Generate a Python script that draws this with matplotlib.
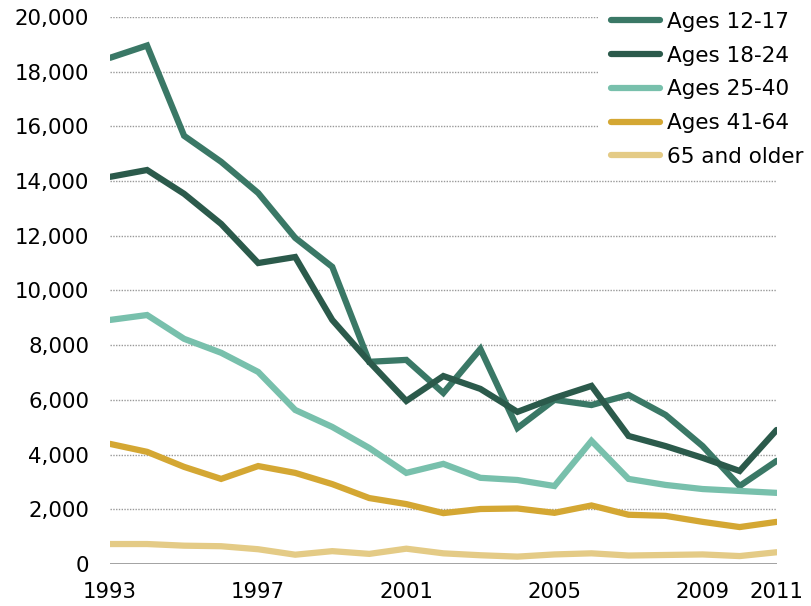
import matplotlib
matplotlib.use('Agg')
import matplotlib.pyplot as plt
from matplotlib.ticker import FuncFormatter

years = list(range(1993, 2012))

# values
ages_12_17 = [18500, 18950, 15650, 14700, 13560, 11920, 10860, 7390, 7460, 6250,
              7860, 4970, 6000, 5810, 6180, 5450, 4310, 2850, 3770]
ages_18_24 = [14150, 14400, 13530, 12430, 11000, 11220, 8920, 7390, 5960, 6870,
              6400, 5560, 6070, 6510, 4680, 4310, 3880, 3400, 4900]
ages_25_40 = [8920, 9100, 8230, 7720, 7020, 5630, 5010, 4240, 3330, 3660,
              3150, 3070, 2850, 4500, 3110, 2890, 2740, 2670, 2600]
ages_41_64 = [4390, 4100, 3550, 3110, 3580, 3330, 2920, 2410, 2190, 1860,
              2010, 2030, 1870, 2140, 1800, 1760, 1540, 1350, 1540]
ages_65_up = [730, 730, 670, 650, 540, 340, 470, 370, 560, 390,
              320, 270, 350, 390, 310, 330, 350, 290, 430]

labels = ['Ages 12-17', 'Ages 18-24', 'Ages 25-40', 'Ages 41-64', '65 and older']
colors = ['#3a7866', '#2b5a4b', '#78c0ac', '#d4a733', '#e4cb86']
xticks = [1993, 1997, 2001, 2005, 2009, 2011]
yticks = list(range(0, 20001, 2000))

fig = plt.figure(figsize=(8.12, 6.06), dpi=100)
ax = fig.add_axes([0.1355, 0.0693, 0.821, 0.903])

series = [ages_12_17, ages_18_24, ages_25_40, ages_41_64, ages_65_up]
for vals, lab, col in zip(series, labels, colors):
    ax.plot(years, vals, color=col, lw=4.5, label=lab,
            solid_capstyle='round', solid_joinstyle='miter', zorder=3)

ax.set_xlim(1993, 2011)
ax.set_ylim(0, 20000)
ax.set_xticks(xticks)
ax.set_yticks(yticks)
ax.yaxis.set_major_formatter(FuncFormatter(lambda v, p: f'{int(v):,}'))

# dotted grid, solid baseline
for y in yticks[1:]:
    ax.axhline(y, color='#999999', lw=1, ls=(0, (1, 1)), zorder=1)
ax.axhline(0, color='#999999', lw=2, zorder=2)

for s in ax.spines.values():
    s.set_visible(False)
ax.tick_params(axis='y', length=0, pad=15)
ax.tick_params(axis='x', length=0, pad=13)
for t in ax.get_xticklabels() + ax.get_yticklabels():
    t.set_family('DejaVu Sans')
    t.set_fontsize(15.3)
    t.set_color('black')

# legend box is white so it hides the grid behind it
leg = fig.legend(loc='upper left', bbox_to_anchor=(598 / 812, 1 + 1 / 606),
                 bbox_transform=fig.transFigure, frameon=True, borderpad=0.6,
                 borderaxespad=0, fancybox=False, framealpha=1,
                 facecolor='white', edgecolor='none',
                 prop={'family': 'DejaVu Sans', 'size': 15.5},
                 handlelength=2.3, handletextpad=0.3, labelspacing=0.64)

fig.savefig('out.png', dpi=100)
